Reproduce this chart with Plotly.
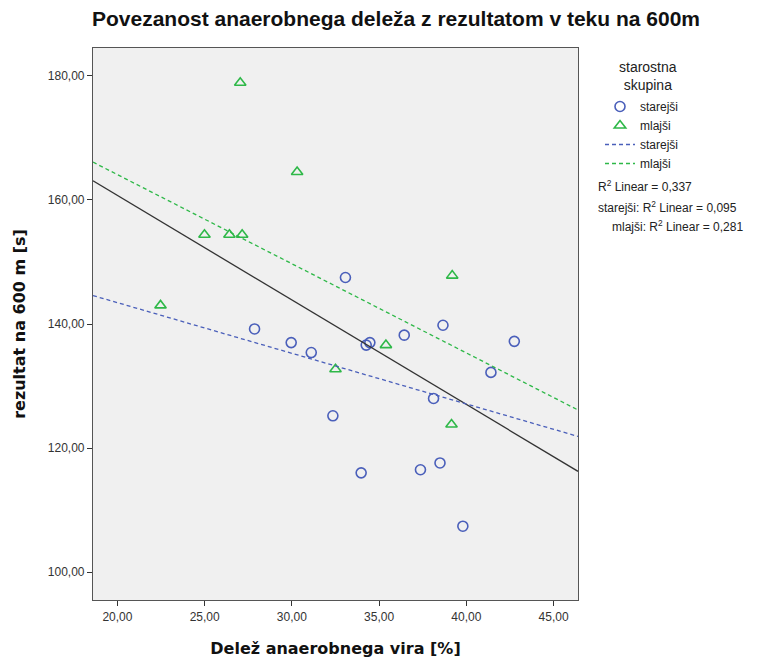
import numpy as np
import plotly.graph_objects as go

# --- data ---
x_starejsi = [33.07, 27.86, 29.96, 31.11, 34.26, 34.47, 36.44, 38.66, 42.75, 41.41, 38.12, 32.35, 33.97, 37.37, 38.49, 39.80]
y_starejsi = [147.5, 139.2, 137.0, 135.4, 136.6, 137.0, 138.2, 139.8, 137.2, 132.2, 128.0, 125.2, 116.0, 116.5, 117.6, 107.4]
x_mlajsi = [27.04, 30.30, 24.99, 26.42, 27.15, 39.19, 22.47, 35.39, 32.50, 39.15]
y_mlajsi = [178.9, 164.5, 154.4, 154.4, 154.4, 147.8, 143.0, 136.6, 132.7, 123.8]
x_ticks = [20, 25, 30, 35, 40, 45]
y_ticks = [100, 120, 140, 160, 180]
legend_title = "starostna<br>skupina"
r2_labels = ["R<sup>2</sup> Linear = 0,337",
             "starejši: R<sup>2</sup> Linear = 0,095",
             "mlajši: R<sup>2</sup> Linear = 0,281"]

X_RANGE = [18.6, 46.4]
Y_RANGE = [95.5, 184.5]
BLUE = "#4a5fba"
GREEN = "#2eb848"
FONT = "Liberation Sans, Arial, sans-serif"
BOLD_AX = "DejaVu Sans, Verdana, sans-serif"


def fit_line(xs, ys):
    k, n = np.polyfit(xs, ys, 1)
    xe = np.array(X_RANGE)
    return xe, k * xe + n


fig = go.Figure()
fig.add_trace(go.Scatter(x=x_starejsi, y=y_starejsi, mode="markers", name="starejši",
                         marker=dict(symbol="circle-open", size=10, color=BLUE, line=dict(width=1.6))))
fig.add_trace(go.Scatter(x=x_mlajsi, y=y_mlajsi, mode="markers", name="mlajši",
                         marker=dict(symbol="triangle-up-open", size=10, color=GREEN, line=dict(width=1.6))))

xa, ya = fit_line(x_starejsi + x_mlajsi, y_starejsi + y_mlajsi)
fig.add_trace(go.Scatter(x=xa, y=ya, mode="lines", showlegend=False,
                         line=dict(color="#333333", width=1.3)))
xs_, ys_ = fit_line(x_starejsi, y_starejsi)
fig.add_trace(go.Scatter(x=xs_, y=ys_, mode="lines", name="starejši",
                         line=dict(color=BLUE, width=1.3, dash="4px,3px")))
xm_, ym_ = fit_line(x_mlajsi, y_mlajsi)
fig.add_trace(go.Scatter(x=xm_, y=ym_, mode="lines", name="mlajši",
                         line=dict(color=GREEN, width=1.3, dash="4px,3px")))

L, R, T, B = 93, 181, 48, 59
W, H = 759, 659
pw = W - L - R
ph = H - T - B


def px(xp):
    return (xp - L) / pw


def py(yp):
    return 1 - (yp - T) / ph


fig.update_layout(
    width=W, height=H,
    margin=dict(l=L, r=R, t=T, b=B, autoexpand=False),
    paper_bgcolor="white",
    plot_bgcolor="#f0f0f0",
    font=dict(family=FONT, size=12, color="#222222"),
    separators=", ",
    title=dict(text="<b>Povezanost anaerobnega deleža z rezultatom v teku na 600m</b>",
               xref="container", x=396 / W, xanchor="center",
               yref="container", y=1 - 19 / H, yanchor="middle",
               font=dict(family=FONT, size=21, color="#111111")),
    legend=dict(x=px(600), y=py(92), xanchor="left", yanchor="top",
                bgcolor="rgba(0,0,0,0)", itemwidth=30, tracegroupgap=0,
                font=dict(size=12, color="#222222")),
    xaxis=dict(range=X_RANGE, tickvals=x_ticks, tickformat=".2f", automargin=False,
               showgrid=False, zeroline=False, showline=True, mirror=True,
               linecolor="#555555", linewidth=1.2, ticks="outside", ticklen=5,
               tickcolor="#333333", tickfont=dict(size=12, color="#333333"),
               title=dict(text="<b>Delež anaerobnega vira [%]</b>", standoff=20,
                          font=dict(family=BOLD_AX, size=16, color="#111111"))),
    yaxis=dict(range=Y_RANGE, tickvals=y_ticks, tickformat=".2f", automargin=False,
               showgrid=False, zeroline=False, showline=True, mirror=True,
               linecolor="#555555", linewidth=1.2, ticks="outside", ticklen=5,
               tickcolor="#333333", tickfont=dict(size=12, color="#333333"),
               title=dict(text="<b>rezultat na 600 m [s]</b>", standoff=18,
                          font=dict(family=BOLD_AX, size=16, color="#111111"))),
)

fig.add_annotation(text=legend_title, x=px(648), y=py(76), xref="paper", yref="paper",
                   xanchor="center", yanchor="middle", showarrow=False, align="center",
                   font=dict(size=14, color="#222222"))

ann_pos = [(596, 186, "left"), (596, 207, "left"), (677, 226, "center")]
for txt, (xp, yp, anc) in zip(r2_labels, ann_pos):
    fig.add_annotation(text=txt, x=px(xp), y=py(yp), xref="paper", yref="paper",
                       xanchor=anc, yanchor="middle", showarrow=False,
                       font=dict(size=12, color="#222222"))

fig.write_html("out.html", config={"displayModeBar": False},
               post_script="document.body.style.margin='0';")
